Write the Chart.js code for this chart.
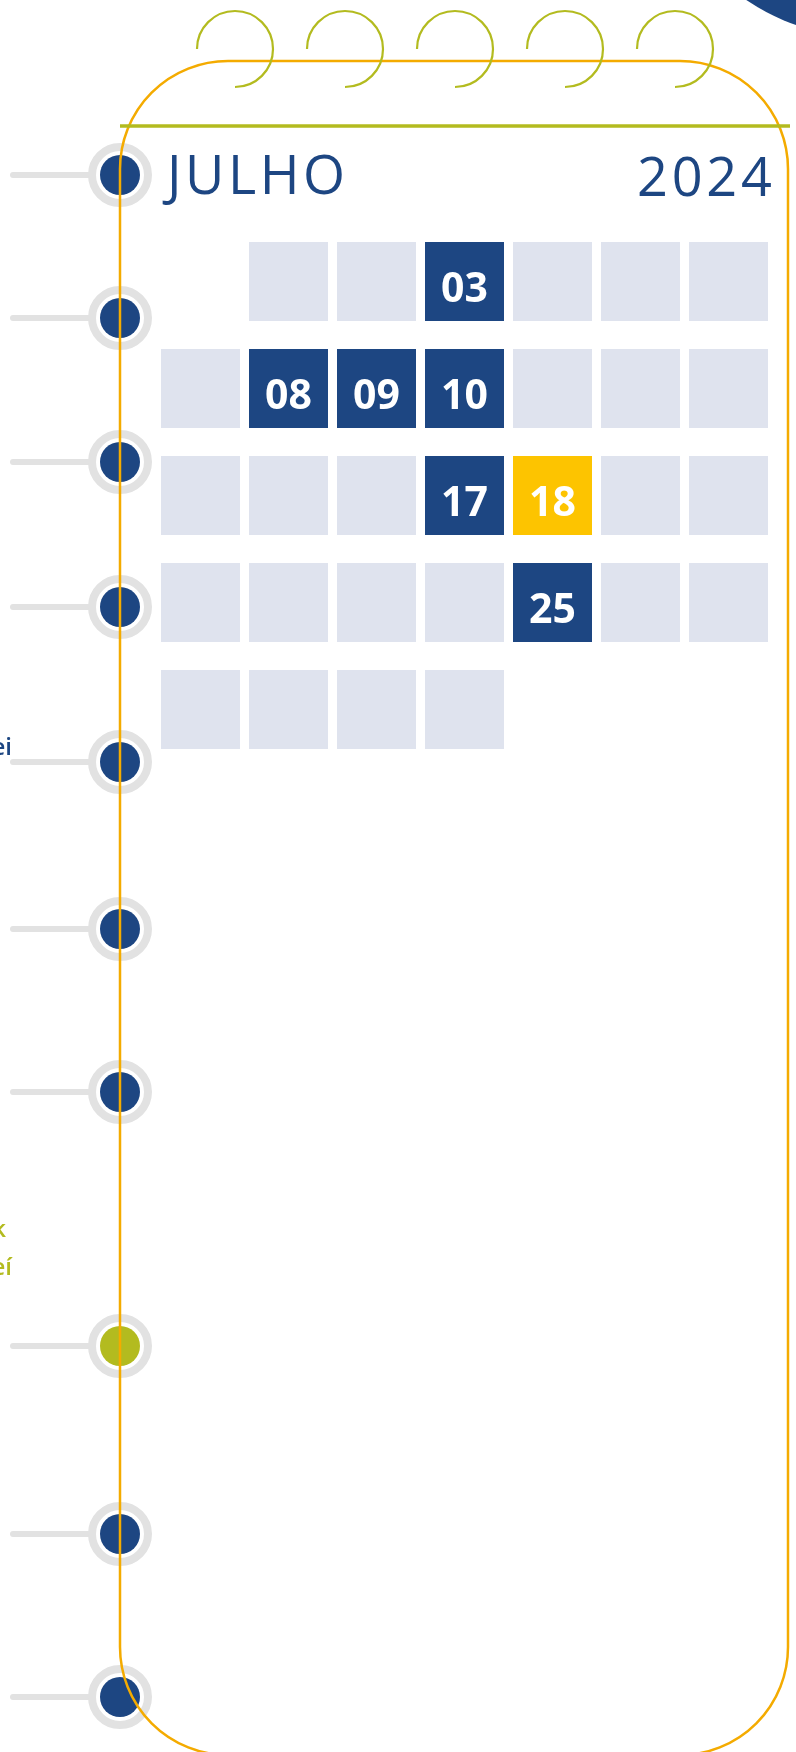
<!DOCTYPE html>
<html>
<head>
<meta charset="utf-8">
<script src="https://cdn.jsdelivr.net/npm/chart.js@4.4.1/dist/chart.umd.min.js"></script>
<style>
  html, body { margin: 0; padding: 0; background: #fff; }
  #wrap { position: relative; width: 796px; height: 1752px; overflow: hidden; }
</style>
</head>
<body>
<div id="wrap"><canvas id="calChart" width="796" height="1752"></canvas></div>
<script>
// calendar data
const monthName = "JULHO";
const yearLabel = "2024";
const weeks = [
  [null, 1, 2, 3, 4, 5, 6],
  [7, 8, 9, 10, 11, 12, 13],
  [14, 15, 16, 17, 18, 19, 20],
  [21, 22, 23, 24, 25, 26, 27],
  [28, 29, 30, 31, null, null, null]
];
const markedDays = [3, 8, 9, 10, 17, 25];
const todayDays = [18];

// timeline stops down the left rail (page units)
const timelineStops = [175, 318, 462, 607, 762, 929, 1092, 1346, 1534, 1697];
const timelineKinds = ["evento", "evento", "evento", "evento", "evento", "evento", "evento", "destaque", "evento", "evento"];

const W = 796, H = 1752;
const colPitch = 88, rowPitch = 107, cellSize = 79;
const firstCol = 200.5, firstRow = 281.5;
const railX = 120;

const BLUE = "#1d4682", LIGHT = "#dfe3ee", GOLD = "#fdc400", OLIVE = "#b3bb1f", ORANGE = "#f4ab00", GREY = "#e2e2e2";

const half = cellSize / 2 / rowPitch;
const cells = [];
weeks.forEach((week, w) => {
  week.forEach((day, d) => {
    if (day !== null) cells.push({ x: d, y: [w - half, w + half], day: day });
  });
});

function cellColor(ctx) {
  const day = ctx.raw && ctx.raw.day;
  if (todayDays.includes(day)) return GOLD;
  if (markedDays.includes(day)) return BLUE;
  return LIGHT;
}

// draw text so that its ink spans a given width
function fitText(c, text, x, y, inkWidth, align) {
  c.textAlign = "left";
  c.letterSpacing = "0px";
  const m = c.measureText(text);
  const natural = m.actualBoundingBoxLeft + m.actualBoundingBoxRight;
  const sp = (inkWidth - natural) / (text.length - 1);
  c.letterSpacing = sp + "px";
  const m2 = c.measureText(text);
  if (align === "left") {
    c.fillText(text, x + m2.actualBoundingBoxLeft, y);
  } else {
    c.fillText(text, x - m2.actualBoundingBoxRight, y);
  }
  c.letterSpacing = "0px";
}

const decor = {
  id: "decor",
  beforeDatasetsDraw(chart) {
    const c = chart.ctx;
    c.save();
    // corner blob
    c.fillStyle = BLUE;
    c.beginPath();
    c.arc(862, -168, 204, 0, Math.PI * 2);
    c.fill();

    // rail stubs
    const rings = chart.getDatasetMeta(1);
    c.strokeStyle = GREY;
    c.lineWidth = 6;
    c.lineCap = "round";
    rings.data.forEach(pt => {
      c.beginPath();
      c.moveTo(13, pt.y);
      c.lineTo(pt.x - 28, pt.y);
      c.stroke();
    });

    // clipped labels from the left column
    c.font = "600 24px 'Open Sans'";
    c.textAlign = "right";
    c.fillStyle = BLUE;
    c.fillText("Lei", 12, 755);
    c.fillStyle = OLIVE;
    c.fillText("Facebook", 6, 1237);
    c.fillText("Jacareí", 12, 1275);

    // header
    c.fillStyle = BLUE;
    c.font = "400 54px 'Open Sans'";
    fitText(c, monthName, 162, 194, 180, "left");
    fitText(c, yearLabel, 771, 196, 132, "right");
    c.restore();
  },
  afterDatasetsDraw(chart) {
    const c = chart.ctx;
    c.save();
    // day numbers on marked cells
    const meta = chart.getDatasetMeta(0);
    c.font = "700 41px 'Open Sans'";
    c.fillStyle = "#ffffff";
    c.textAlign = "center";
    c.textBaseline = "alphabetic";
    meta.data.forEach((bar, i) => {
      const day = cells[i].day;
      if (markedDays.includes(day) || todayDays.includes(day)) {
        const cy = (bar.y + bar.base) / 2;
        c.fillText(String(day).padStart(2, "0"), bar.x, cy + 20.5);
      }
    });

    // page outline
    c.strokeStyle = ORANGE;
    c.lineWidth = 2.5;
    c.beginPath();
    c.roundRect(railX, 61, 668, 1694, 108);
    c.stroke();

    // header rule
    c.strokeStyle = OLIVE;
    c.lineWidth = 3.5;
    c.beginPath();
    c.moveTo(railX, 126);
    c.lineTo(790, 126);
    c.stroke();

    // spiral rings
    c.lineWidth = 2.2;
    for (let i = 0; i < 5; i++) {
      c.beginPath();
      c.arc(235 + i * 110, 49, 38, Math.PI, Math.PI / 2, false);
      c.stroke();
    }
    c.restore();
  }
};

const xMin = -firstCol / colPitch;
const yMin = -firstRow / rowPitch;

new Chart(document.getElementById("calChart"), {
  type: "bar",
  data: {
    datasets: [
      {
        label: "dias",
        data: cells,
        backgroundColor: cellColor,
        barThickness: cellSize,
        grouped: false,
        borderWidth: 0,
        inflateAmount: 0,
        xAxisID: "x",
        yAxisID: "y",
        order: 2
      },
      {
        type: "scatter",
        label: "anel",
        data: timelineStops.map(y => ({ x: railX, y: y })),
        pointRadius: 28,
        pointBorderWidth: 8,
        pointBackgroundColor: "#ffffff",
        pointBorderColor: GREY,
        pointHoverRadius: 28,
        xAxisID: "xT",
        yAxisID: "yT",
        order: 1
      },
      {
        type: "scatter",
        label: "marco",
        data: timelineStops.map(y => ({ x: railX, y: y })),
        pointRadius: 20,
        pointBorderWidth: 0,
        pointBackgroundColor: timelineKinds.map(k => k === "destaque" ? OLIVE : BLUE),
        pointHoverRadius: 20,
        xAxisID: "xT",
        yAxisID: "yT",
        order: 0
      }
    ]
  },
  options: {
    responsive: false,
    animation: false,
    devicePixelRatio: 1,
    layout: { padding: 0, autoPadding: false },
    events: [],
    plugins: { legend: { display: false }, tooltip: { enabled: false } },
    scales: {
      x: { type: "linear", display: false, offset: false, min: xMin, max: xMin + W / colPitch },
      y: { type: "linear", display: false, reverse: true, min: yMin, max: yMin + H / rowPitch },
      xT: { type: "linear", display: false, offset: false, min: 0, max: W },
      yT: { type: "linear", display: false, reverse: true, min: 0, max: H }
    }
  },
  plugins: [decor]
});
</script>
</body>
</html>
